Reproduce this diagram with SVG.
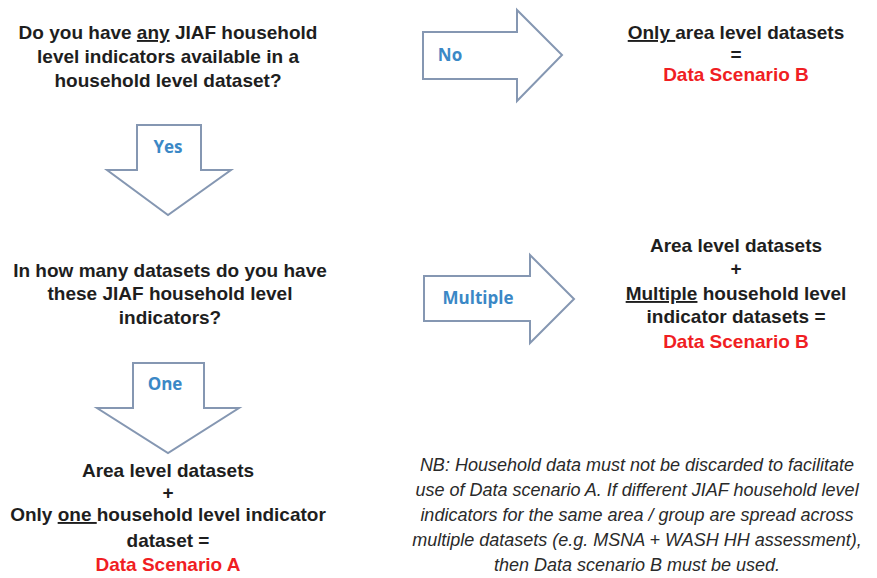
<svg xmlns="http://www.w3.org/2000/svg" width="877" height="578" viewBox="0 0 877 578">
<style>
.t{font-family:"Liberation Sans",Arial,sans-serif;font-weight:bold;font-size:19px;fill:#1e1e1e;text-anchor:middle}
.r{fill:#f01e23}
.u{text-decoration:underline}
.lbl{font-family:"Open Sans","Liberation Sans",sans-serif;font-weight:bold;font-size:17px;fill:#3b88c6}
.arr{fill:#fff;stroke:#8597b2;stroke-width:2;stroke-linejoin:miter}
.nb{font-family:"Liberation Sans",Arial,sans-serif;font-style:italic;font-size:18px;fill:#2a2a2a;text-anchor:middle}
</style>
<rect width="877" height="578" fill="#fff"/>
<g id="q1">
<text class="t" x="168" y="39">Do you have <tspan class="u">any</tspan> JIAF household</text>
<text class="t" x="168" y="63">level indicators available in a</text>
<text class="t" x="168" y="87">household level dataset?</text>
</g>
<g id="resB1">
<text class="t" x="736" y="39"><tspan class="u">Only </tspan>area level datasets</text>
<text class="t" x="736" y="61">=</text>
<text class="t r" x="736" y="81">Data Scenario B</text>
</g>
<g id="q2">
<text class="t" x="170" y="277">In how many datasets do you have</text>
<text class="t" x="170" y="300">these JIAF household level</text>
<text class="t" x="170" y="324">indicators?</text>
</g>
<g id="resB2">
<text class="t" x="736" y="252">Area level datasets</text>
<text class="t" x="736" y="275">+</text>
<text class="t" x="736" y="300"><tspan class="u">Multiple</tspan> household level</text>
<text class="t" x="736" y="323">indicator datasets =</text>
<text class="t r" x="736" y="348">Data Scenario B</text>
</g>
<g id="resA">
<text class="t" x="168" y="477">Area level datasets</text>
<text class="t" x="168" y="499">+</text>
<text class="t" x="168" y="521">Only <tspan class="u">one </tspan>household level indicator</text>
<text class="t" x="168" y="547">dataset =</text>
<text class="t r" x="168" y="571">Data Scenario A</text>
</g>
<g id="note">
<text class="nb" x="637" y="471">NB: Household data must not be discarded to facilitate</text>
<text class="nb" x="637" y="496">use of Data scenario A. If different JIAF household level</text>
<text class="nb" x="637" y="521">indicators for the same area / group are spread across</text>
<text class="nb" x="637" y="546">multiple datasets (e.g. MSNA + WASH HH assessment),</text>
<text class="nb" x="637" y="571">then Data scenario B must be used.</text>
</g>
<g id="connectors">
<g id="arrow-yes">
<polygon class="arr" points="137,125 201,125 201,170 231,170 168,215 107,170 137,170"/>
<text class="lbl" x="168" y="153" text-anchor="middle">Yes</text>
</g>
<g id="arrow-no">
<polygon class="arr" points="423,32 517,32 517,10 562,55 517,101 517,79 423,79"/>
<text class="lbl" x="450" y="61" text-anchor="middle">No</text>
</g>
<g id="arrow-multiple">
<polygon class="arr" points="424,276 530,276 530,255 574,299 530,343 530,321 424,321"/>
<text class="lbl" x="478" y="304" text-anchor="middle">Multiple</text>
</g>
<g id="arrow-one">
<polygon class="arr" points="133,363 204,363 204,408 239,408 168,453 97,408 133,408"/>
<text class="lbl" x="165" y="390" text-anchor="middle">One</text>
</g>
</g>
</svg>
